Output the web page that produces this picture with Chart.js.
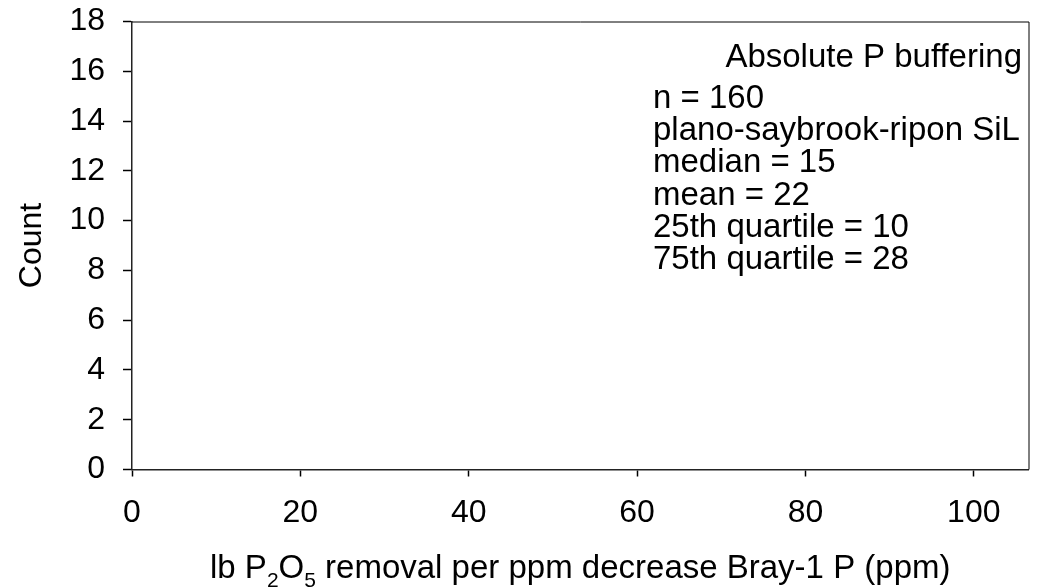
<!DOCTYPE html>
<html>
<head>
<meta charset="utf-8">
<script src="https://cdn.jsdelivr.net/npm/chart.js@4.4.1/dist/chart.umd.min.js"></script>
<style>
  html, body { margin: 0; padding: 0; background: #fff; }
  #histChart { display: block; }
</style>
</head>
<body>
<canvas id="histChart" width="1041" height="587"></canvas>
<script>
// histogram bins (no counts recorded for this soil group)
const binCenters = [];
const binCounts = [];

const xTickValues = [0, 20, 40, 60, 80, 100];
const xMax = 106.5;
const yMax = 18;
const yStep = 2;

const boxTitle = 'Absolute P buffering';
const statLines = [
    'n = 160',
    'plano-saybrook-ripon SiL',
    'median = 15',
    'mean = 22',
    '25th quartile = 10',
    '75th quartile = 28'
];

const FONT = "'Liberation Sans', Arial, sans-serif";
const FONT_SIZE = 32;
const TEXT_SIZE = 33;

// top/right frame, stats text and the x title with subscripts
const extras = {
    id: 'extras',
    afterDraw(chart) {
        const ctx = chart.ctx;
        const a = chart.chartArea;
        ctx.save();

        ctx.strokeStyle = '#000';
        ctx.lineWidth = 1;
        ctx.beginPath();
        ctx.moveTo(a.left, a.top + 0.5);
        ctx.lineTo(a.right + 0.5, a.top + 0.5);
        ctx.lineTo(a.right + 0.5, a.bottom);
        ctx.stroke();

        ctx.fillStyle = '#000';
        ctx.font = TEXT_SIZE + 'px ' + FONT;
        ctx.textBaseline = 'alphabetic';
        ctx.textAlign = 'right';
        ctx.fillText(boxTitle, a.right - 6.5, a.top + 45.5);

        ctx.textAlign = 'left';
        statLines.forEach(function(line, i) {
            ctx.fillText(line, 653, a.top + 86.5 + i * 32.2);
        });

        // lb P2O5 removal ... with subscript digits
        const parts = [
            ['lb P', false], ['2', true], ['O', false], ['5', true],
            [' removal per ppm decrease Bray-1 P (ppm)', false]
        ];
        const big = TEXT_SIZE + 'px ' + FONT;
        const small = Math.round(TEXT_SIZE * 0.65) + 'px ' + FONT;
        let total = 0;
        parts.forEach(function(p) {
            ctx.font = p[1] ? small : big;
            total += ctx.measureText(p[0]).width;
        });
        let x = (a.left + a.right) / 2 - total / 2;
        const base = 578;
        parts.forEach(function(p) {
            ctx.font = p[1] ? small : big;
            ctx.fillText(p[0], x, p[1] ? base + 9 : base);
            x += ctx.measureText(p[0]).width;
        });

        ctx.restore();
    }
};

document.addEventListener('DOMContentLoaded', function() {
    const ctx = document.getElementById('histChart').getContext('2d');

    new Chart(ctx, {
        type: 'bar',
        data: {
            datasets: [{
                label: 'Count',
                data: binCenters.map(function(c, i) { return { x: c, y: binCounts[i] }; }),
                backgroundColor: '#7f7f7f',
                borderColor: '#000',
                borderWidth: 1
            }]
        },
        options: {
            responsive: false,
            animation: false,
            layout: { padding: { top: 21.5, right: 12.5, left: 0, bottom: 0 } },
            plugins: {
                legend: { display: false },
                tooltip: { enabled: false }
            },
            scales: {
                x: {
                    type: 'linear',
                    min: 0,
                    max: xMax,
                    offset: false,
                    afterBuildTicks: function(scale) {
                        scale.ticks = xTickValues.map(function(v) { return { value: v }; });
                    },
                    afterFit: function(scale) {
                        scale.height = 117.5;
                        scale.paddingLeft = 0;
                        scale.paddingRight = 0;
                    },
                    grid: {
                        offset: false,
                        drawOnChartArea: false,
                        drawTicks: true,
                        tickLength: 7,
                        tickColor: '#000',
                        tickWidth: 1.5
                    },
                    border: { display: true, color: '#222', width: 1.5 },
                    ticks: {
                        color: '#000',
                        padding: 17,
                        maxRotation: 0,
                        font: { family: FONT, size: FONT_SIZE }
                    }
                },
                y: {
                    min: 0,
                    max: yMax,
                    afterFit: function(scale) {
                        scale.width = 132;
                        scale.paddingTop = 0;
                        scale.paddingBottom = 0;
                    },
                    grid: {
                        drawOnChartArea: false,
                        drawTicks: true,
                        tickLength: 9,
                        tickColor: '#000',
                        tickWidth: 1.5
                    },
                    border: { display: true, color: '#222', width: 1.5 },
                    ticks: {
                        stepSize: yStep,
                        color: '#000',
                        padding: 18,
                        font: { family: FONT, size: FONT_SIZE }
                    },
                    title: {
                        display: true,
                        text: 'Count',
                        color: '#000',
                        padding: { top: 12.8, bottom: 0 },
                        font: { family: FONT, size: FONT_SIZE }
                    }
                }
            }
        },
        plugins: [extras]
    });
});
</script>
</body>
</html>
